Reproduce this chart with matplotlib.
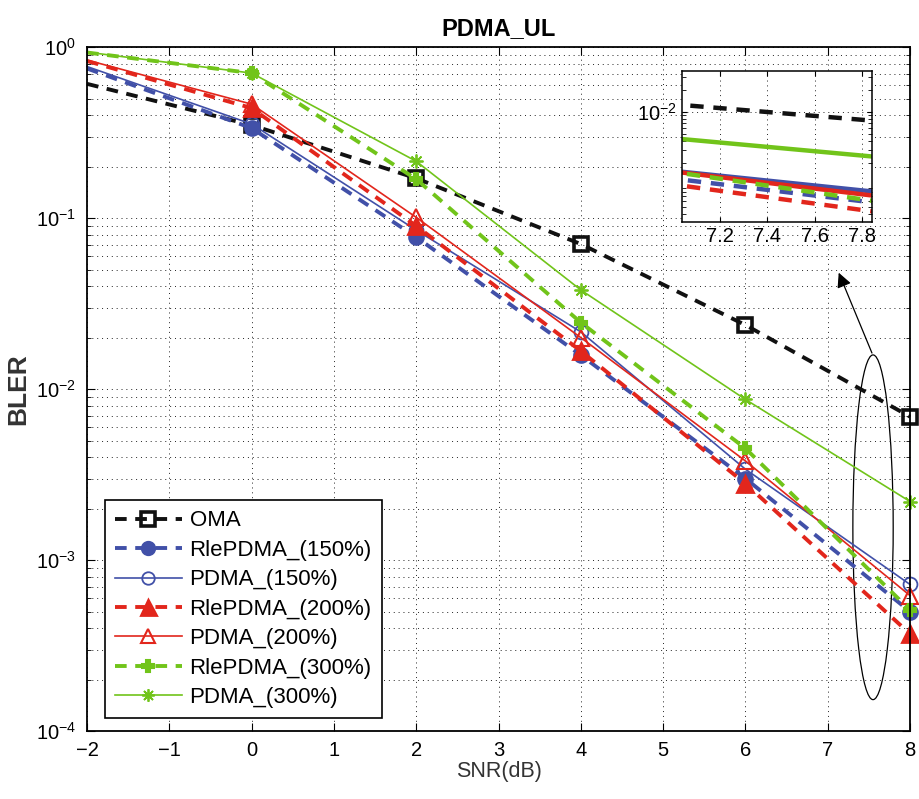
import matplotlib
matplotlib.use("Agg")
import matplotlib.pyplot as plt
from matplotlib.patches import Ellipse
from matplotlib.ticker import LogLocator, NullFormatter

plt.rcParams["font.family"] = ["Liberation Sans", "DejaVu Sans"]
plt.rcParams["mathtext.fontset"] = "custom"
plt.rcParams["mathtext.rm"] = "Liberation Sans"

snr = [-2, 0, 2, 4, 6, 8]
oma = [0.61, 0.35, 0.171, 0.0705, 0.0237, 0.0069]
rle_150 = [0.75, 0.336, 0.0774, 0.0158, 0.0030, 0.00050]
pdma_150 = [0.77, 0.355, 0.085, 0.0216, 0.0034, 0.00072]
rle_200 = [0.83, 0.44, 0.090, 0.0167, 0.0028, 0.00037]
pdma_200 = [0.84, 0.464, 0.101, 0.020, 0.0038, 0.00062]
rle_300 = [0.93, 0.705, 0.169, 0.0245, 0.0045, 0.00051]
pdma_300 = [0.935, 0.705, 0.215, 0.038, 0.0087, 0.0022]

BLACK = "#111111"
BLUE = "#4150a8"
RED = "#e2261c"
GREEN = "#71c41a"
DASH = (0, (3, 2.2))

series = [
    ("OMA", oma, dict(color=BLACK, ls=DASH, lw=2.8, marker="s", ms=10.5,
                      mfc="none", mec=BLACK, mew=2.6)),
    ("RlePDMA_(150%)", rle_150, dict(color=BLUE, ls=DASH, lw=2.8, marker="o", ms=10,
                                     mfc=BLUE, mec=BLUE, mew=2)),
    ("PDMA_(150%)", pdma_150, dict(color=BLUE, ls="-", lw=1.2, marker="o", ms=10,
                                   mfc="none", mec=BLUE, mew=1.3)),
    ("RlePDMA_(200%)", rle_200, dict(color=RED, ls=DASH, lw=2.8, marker="^", ms=12,
                                     mfc=RED, mec=RED, mew=2)),
    ("PDMA_(200%)", pdma_200, dict(color=RED, ls="-", lw=1.2, marker="^", ms=11,
                                   mfc="none", mec=RED, mew=1.5)),
    ("RlePDMA_(300%)", rle_300, dict(color=GREEN, ls=DASH, lw=2.8, marker="P", ms=9,
                                     mfc=GREEN, mec=GREEN, mew=1.5)),
    ("PDMA_(300%)", pdma_300, dict(color=GREEN, ls="-", lw=1.2, marker=(8, 2, 0), ms=10,
                                   mfc=GREEN, mec=GREEN, mew=1.3)),
]

fig = plt.figure(figsize=(9.2, 7.99), dpi=100)
ax = fig.add_axes([0.0946, 0.085, 0.8946, 0.856])

for label, vals, style in series:
    # markers only from 0 dB on, as in the original figure
    ax.semilogy(snr, vals, label=label, clip_on=False, markevery=slice(1, None), **style)

ax.set_xlim(-2, 8)
ax.set_ylim(1e-4, 1)
ax.set_xticks(range(-2, 9))
ax.yaxis.set_major_locator(LogLocator(base=10, numticks=10))
ax.yaxis.set_minor_locator(LogLocator(base=10, subs=range(2, 10), numticks=20))
ax.yaxis.set_minor_formatter(NullFormatter())
ax.tick_params(which="both", direction="in", top=True, right=True, labelsize=14.5)
ax.tick_params(which="major", length=6)
ax.tick_params(axis="x", pad=7)
ax.tick_params(axis="y", pad=8)
ax.tick_params(which="minor", length=3)
dot = dict(ls=(0, (1, 4)), color="#222222", lw=0.7)
ax.grid(True, which="major", axis="both", **dot)
ax.grid(True, which="minor", axis="y", **dot)
for sp in ax.spines.values():
    sp.set_linewidth(1.3)

ax.set_title("PDMA_UL", fontsize=17, fontweight="bold", pad=9)
ax.set_xlabel("SNR(dB)", fontsize=15.5, color="#333333", labelpad=1)
ax.set_ylabel("BLER", fontsize=19, fontweight="bold", color="#333333", labelpad=4)

leg = ax.legend(loc="lower left", bbox_to_anchor=(0.022, 0.019), fontsize=16,
                fancybox=False, framealpha=1, edgecolor="black",
                handlelength=3.0, labelspacing=0.38, borderpad=0.45,
                handletextpad=0.35, borderaxespad=0, markerscale=0.9)
leg.get_frame().set_linewidth(1.2)

# ellipse around the 7.5 dB region and arrow to the inset
ax.add_patch(Ellipse((0.955, 0.298), 0.049, 0.504, transform=ax.transAxes,
                     fill=False, ec="black", lw=0.9))
ax.annotate("", xy=(0.912, 0.674), xytext=(0.955, 0.549),
            xycoords="axes fraction", textcoords="axes fraction",
            arrowprops=dict(arrowstyle="-|>", color="black", lw=0.9,
                            mutation_scale=22))

# zoomed inset
ins = fig.add_axes([0.741, 0.722, 0.2065, 0.189])
for label, vals, style in series:
    ins.semilogy(snr, vals, color=style["color"], ls=style["ls"], lw=3.2)
ins.set_xlim(7.04, 7.84)
ins.set_ylim(10 ** -3.51, 10 ** -1.44)
ins.set_xticks([7.2, 7.4, 7.6, 7.8])
ins.set_yticks([1e-2])
ins.yaxis.set_minor_locator(LogLocator(base=10, subs=range(2, 10), numticks=20))
ins.yaxis.set_minor_formatter(NullFormatter())
ins.tick_params(which="both", direction="in", top=True, right=True, labelsize=14.5)
ins.tick_params(which="minor", length=3)
ins.grid(True, which="major", axis="both", **dot)
for sp in ins.spines.values():
    sp.set_linewidth(1.1)

fig.savefig("out.png", dpi=100)
